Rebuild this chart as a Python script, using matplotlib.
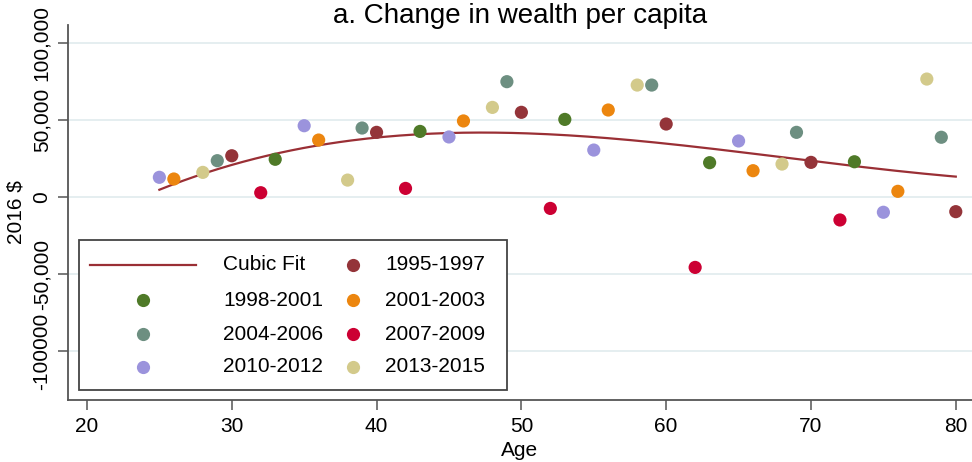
import numpy as np
import matplotlib
matplotlib.use("Agg")
import matplotlib.pyplot as plt
from matplotlib.lines import Line2D
from matplotlib.patches import Rectangle
from matplotlib.ticker import FuncFormatter

plt.rcParams['font.family'] = ['Liberation Sans', 'DejaVu Sans']

# cohort series: ages and change in wealth per capita (2016 $)
labels = ["1995-1997", "1998-2001", "2001-2003", "2004-2006",
          "2007-2009", "2010-2012", "2013-2015"]
colors = ["#943439", "#4f7a28", "#ec860f", "#6d8f81",
          "#cc0033", "#9b93dc", "#d3ca8b"]

ages_9597 = [30, 40, 50, 60, 70, 80]
vals_9597 = [26800, 42000, 55000, 47400, 22500, -9500]
ages_9801 = [33, 43, 53, 63, 73]
vals_9801 = [24500, 42600, 50400, 22300, 22900]
ages_0103 = [26, 36, 46, 56, 66, 76]
vals_0103 = [11700, 37000, 49400, 56500, 17100, 3700]
ages_0406 = [29, 39, 49, 59, 69, 79]
vals_0406 = [23600, 44800, 74900, 72700, 42000, 38800]
ages_0709 = [32, 42, 52, 62, 72]
vals_0709 = [2800, 5600, -7400, -45700, -14900]
ages_1012 = [25, 35, 45, 55, 65, 75]
vals_1012 = [12800, 46300, 39000, 30500, 36400, -9900]
ages_1315 = [28, 38, 48, 58, 68, 78]
vals_1315 = [16000, 11000, 58200, 72700, 21400, 76600]

# cubic fit curve (fitted on the full underlying sample)
fit_ages = [25, 30, 35, 40, 45, 50, 55, 60, 65, 70, 75, 80]
fit_vals = [4500, 20800, 33000, 38000, 40900, 41800, 38800, 34900, 29400, 23400, 18000, 13200]

all_ages = [ages_9597, ages_9801, ages_0103, ages_0406, ages_0709, ages_1012, ages_1315]
all_vals = [vals_9597, vals_9801, vals_0103, vals_0406, vals_0709, vals_1012, vals_1315]

W, H = 972, 462
fig = plt.figure(figsize=(W / 100, H / 100), dpi=100)
ax = fig.add_axes([68 / W, (H - 400) / H, 1 - 68 / W, 375 / H])

coef = np.polyfit(fit_ages, fit_vals, 3)
xf = np.linspace(min(fit_ages), max(fit_ages), 200)
fit_color = "#9a2f35"
ax.plot(xf, np.polyval(coef, xf), color=fit_color, lw=1.6, zorder=3)

for a, v, c in zip(all_ages, all_vals, colors):
    ax.scatter(a, v, s=90, color=c, edgecolors='none', zorder=4)

ax.set_xlim(18.69, 81.12)
ax.set_ylim(-131800, 111700)
ax.set_xticks([20, 30, 40, 50, 60, 70, 80])
ax.set_yticks([-100000, -50000, 0, 50000, 100000])
ax.yaxis.set_major_formatter(FuncFormatter(
    lambda v, p: "-100000" if v == -100000 else f"{int(v):,}"))
ax.grid(axis='y', color='#e5eef0', lw=1.4)
ax.set_axisbelow(True)
for s in ['top', 'right']:
    ax.spines[s].set_visible(False)
for s in ['left', 'bottom']:
    ax.spines[s].set_color('#555555')
    ax.spines[s].set_linewidth(1.3)
ax.tick_params(direction='out', length=7, width=1.1, color='#555555',
               labelsize=15, pad=5)
for t in ax.get_yticklabels():
    t.set_rotation(90)
    t.set_va('center')
ax.set_xlabel("Age", fontsize=15, labelpad=4)
ax.set_ylabel("2016 $", fontsize=15, labelpad=5)

fig.text(520 / W, 1 - 23 / H, "a. Change in wealth per capita",
         ha='center', va='baseline', fontsize=20)

# legend drawn by hand (Stata-like layout)
def fx(px):
    return px / W

def fy(py):
    return 1 - py / H

fig.add_artist(Rectangle((fx(79), fy(390)), fx(507) - fx(79), fy(240) - fy(390),
                         transform=fig.transFigure, facecolor='white',
                         edgecolor='#444444', lw=1.3, zorder=5))
rows = [265, 300, 334, 367]
fig.add_artist(Line2D([fx(90), fx(196)], [fy(rows[0])] * 2, color=fit_color,
                      lw=1.6, transform=fig.transFigure, zorder=6))
fig.text(fx(223), fy(rows[0]), "Cubic Fit", fontsize=15, va='center', zorder=6)
slots = [(353, 385, rows[0]), (143, 223, rows[1]), (353, 385, rows[1]),
         (143, 223, rows[2]), (353, 385, rows[2]), (143, 223, rows[3]),
         (353, 385, rows[3])]
for (mx, tx, ry), lab, c in zip(slots, labels, colors):
    fig.add_artist(Line2D([fx(mx)], [fy(ry)], marker='o', markersize=9.5,
                          color=c, markeredgewidth=0, ls='none',
                          transform=fig.transFigure, zorder=6))
    fig.text(fx(tx), fy(ry), lab, fontsize=15, va='center', zorder=6)

fig.savefig("out.png", dpi=100)
